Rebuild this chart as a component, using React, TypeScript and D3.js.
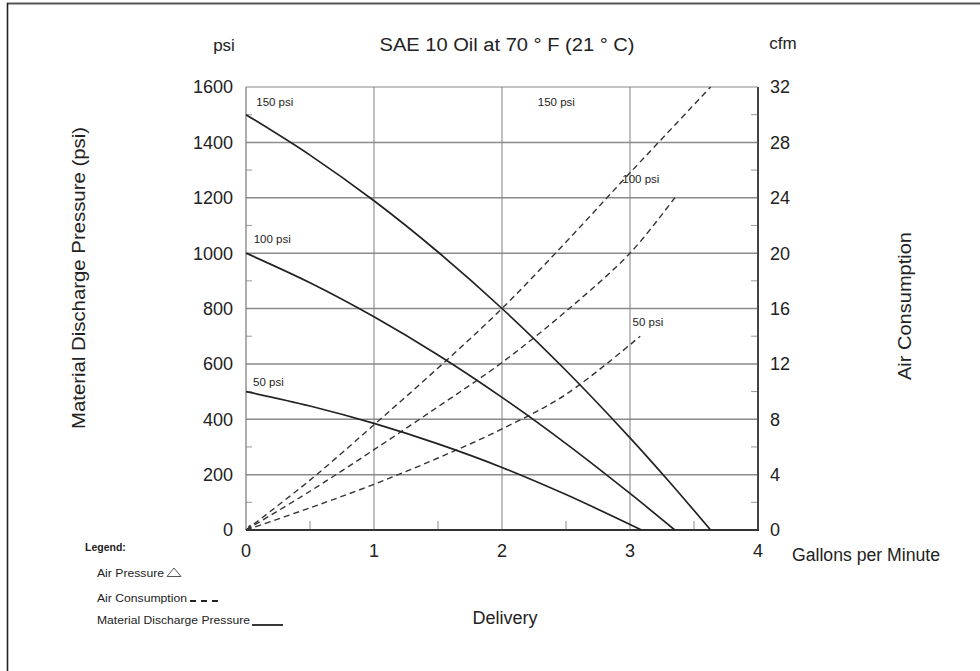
import React from "react";
import * as d3 from "d3";

// ---- Data ----
// Material discharge pressure (psi) vs delivery (gpm) for each air pressure
const gpm150 = [0, 0.5, 1, 1.5, 2, 2.5, 3, 3.3, 3.63];
const psi150 = [1500, 1354, 1189, 1004, 800, 576, 333, 178, 0];
const gpm100 = [0, 0.5, 1, 1.5, 2, 2.5, 3, 3.35];
const psi100 = [1000, 893, 770, 632, 479, 312, 132, 0];
const gpm50 = [0, 0.5, 1, 1.5, 2, 2.5, 3.09];
const psi50 = [500, 448, 385, 311, 226, 128, 0];

// Air consumption (cfm) vs delivery (gpm)
const airGpm150 = [0, 0.5, 1, 1.5, 2, 2.5, 3, 3.63];
const cfm150 = [0, 3.6, 7.6, 11.7, 16, 20.8, 25.8, 32];
const airGpm100 = [0, 0.5, 1, 1.5, 2, 2.5, 3, 3.35];
const cfm100 = [0, 2.8, 5.8, 8.9, 12.1, 15.8, 20, 24];
const airGpm50 = [0, 0.5, 1, 1.5, 2, 2.5, 3.08];
const cfm50 = [0, 1.6, 3.3, 5.2, 7.3, 9.8, 14];

const xTicks = [0, 1, 2, 3, 4];
const xMinor = [0.5, 1.5, 2.5, 3.5];
const leftTicks = [0, 200, 400, 600, 800, 1000, 1200, 1400, 1600];
const leftMinor = [100, 300, 500, 700, 900, 1100, 1300, 1500];
const rightTicks = [0, 4, 8, 12, 16, 20, 24, 28, 32];

// curve labels: [text, gpm, psi]
const curveLabels: [string, number, number][] = [
  ["150 psi", 0.08, 1546],
  ["150 psi", 2.28, 1546],
  ["100 psi", 2.94, 1268],
  ["100 psi", 0.06, 1051],
  ["50 psi", 3.02, 751],
  ["50 psi", 0.055, 534],
];

const title = "SAE 10 Oil at 70 ° F (21 ° C)";
const legendItems = ["Air Pressure", "Air Consumption", "Material Discharge Pressure"];

const FONT = "'Liberation Sans', Arial, Helvetica, sans-serif";

export default function App() {
  const left = 246, right = 758, top = 87, bottom = 530;
  const x = d3.scaleLinear().domain([0, 4]).range([left, right]);
  const yL = d3.scaleLinear().domain([0, 1600]).range([bottom, top]);
  const yR = d3.scaleLinear().domain([0, 32]).range([bottom, top]);

  const lineL = d3
    .line<[number, number]>()
    .x((d) => x(d[0]))
    .y((d) => yL(d[1]))
    .curve(d3.curveCatmullRom.alpha(0.5));
  const lineR = d3
    .line<[number, number]>()
    .x((d) => x(d[0]))
    .y((d) => yR(d[1]))
    .curve(d3.curveCatmullRom.alpha(0.5));

  const zip = (a: number[], b: number[]) => a.map((v, i) => [v, b[i]] as [number, number]);

  const solids = [zip(gpm150, psi150), zip(gpm100, psi100), zip(gpm50, psi50)];
  const dashes = [zip(airGpm150, cfm150), zip(airGpm100, cfm100), zip(airGpm50, cfm50)];

  const textFill = "#222";

  return (
    <svg
      width={980}
      height={671}
      style={{ position: "absolute", left: 0, top: 0, background: "#fff" }}
      fontFamily={FONT}
    >
      <rect x={0} y={0} width={980} height={671} fill="#fff" />
      {/* frame of the picture */}
      <line x1={7} y1={3.5} x2={980} y2={3.5} stroke="#555" strokeWidth={2} />
      <line x1={7.5} y1={3} x2={7.5} y2={671} stroke="#222" strokeWidth={1.6} />

      {/* grid */}
      {xTicks.slice(1, -1).map((t) => (
        <line key={"gx" + t} x1={x(t)} x2={x(t)} y1={top} y2={bottom} stroke="#8a8a8a" strokeWidth={1.1} />
      ))}
      {leftTicks.slice(1, -1).map((t) => (
        <line key={"gy" + t} x1={left} x2={right} y1={yL(t)} y2={yL(t)} stroke="#8a8a8a" strokeWidth={1.5} />
      ))}
      {/* minor ticks */}
      {leftMinor.map((t) => (
        <g key={"mt" + t}>
          <line x1={left} x2={left + 6} y1={yL(t)} y2={yL(t)} stroke="#999" strokeWidth={1} />
          <line x1={right - 7} x2={right} y1={yL(t)} y2={yL(t)} stroke="#999" strokeWidth={1} />
        </g>
      ))}
      {xMinor.map((t) => (
        <line key={"mx" + t} x1={x(t)} x2={x(t)} y1={bottom} y2={bottom - 9} stroke="#888" strokeWidth={1} />
      ))}

      {/* plot frame */}
      <line x1={left} x2={right} y1={top} y2={top} stroke="#888" strokeWidth={1.2} />
      <line x1={left} x2={left} y1={top} y2={bottom} stroke="#777" strokeWidth={1.2} />
      <line x1={right} x2={right} y1={top} y2={bottom + 1} stroke="#444" strokeWidth={2} />
      <line x1={left} x2={right + 1} y1={bottom} y2={bottom} stroke="#333" strokeWidth={2} />

      {/* curves */}
      {dashes.map((d, i) => (
        <path key={"d" + i} d={lineR(d) || ""} fill="none" stroke="#333" strokeWidth={1.4} strokeDasharray="6 4" />
      ))}
      {solids.map((d, i) => (
        <path key={"s" + i} d={lineL(d) || ""} fill="none" stroke="#222" strokeWidth={1.7} />
      ))}
      <circle cx={x(0.03)} cy={yL(12)} r={1.6} fill="#333" />

      {/* curve labels */}
      {curveLabels.map(([t, gx, py], i) => (
        <text key={"cl" + i} x={x(gx)} y={yL(py)} dy="0.35em" fontSize={11.5} fill={textFill}>
          {t}
        </text>
      ))}

      {/* left tick labels */}
      {leftTicks.map((t) => (
        <text key={"lt" + t} x={233} y={yL(t)} dy="0.36em" textAnchor="end" fontSize={18} fill={textFill}>
          {t}
        </text>
      ))}
      {/* right tick labels */}
      {rightTicks.map((t) => (
        <text key={"rt" + t} x={770} y={yR(t)} dy="0.36em" textAnchor="start" fontSize={18} fill={textFill}>
          {t}
        </text>
      ))}
      {/* bottom tick labels */}
      {xTicks.map((t) => (
        <text key={"bt" + t} x={x(t)} y={551} dy="0.36em" textAnchor="middle" fontSize={18} fill={textFill}>
          {t}
        </text>
      ))}

      {/* titles */}
      <text x={507} y={45} dy="0.36em" textAnchor="middle" fontSize={18} fill={textFill} textLength={255} lengthAdjust="spacingAndGlyphs">
        {title}
      </text>
      <text x={224} y={45} dy="0.36em" textAnchor="middle" fontSize={17} fill={textFill}>
        psi
      </text>
      <text x={783} y={43} dy="0.36em" textAnchor="middle" fontSize={17} fill={textFill}>
        cfm
      </text>
      <text x={792} y={555} dy="0.36em" textAnchor="start" fontSize={18} fill={textFill} textLength={148} lengthAdjust="spacingAndGlyphs">
        Gallons per Minute
      </text>
      <text x={505} y={618} dy="0.36em" textAnchor="middle" fontSize={18} fill={textFill}>
        Delivery
      </text>
      <text
        transform="translate(79,278) rotate(-90)"
        textAnchor="middle"
        dy="0.36em"
        fontSize={18}
        fill={textFill}
        textLength={302}
        lengthAdjust="spacingAndGlyphs"
      >
        Material Discharge Pressure (psi)
      </text>
      <text transform="translate(905,306) rotate(-90)" textAnchor="middle" dy="0.36em" fontSize={18} fill={textFill} textLength={148} lengthAdjust="spacingAndGlyphs">
        Air Consumption
      </text>

      {/* legend */}
      <text x={85} y={547} dy="0.36em" fontSize={10.5} fontWeight="bold" fill={textFill}>
        Legend:
      </text>
      <text x={97} y={573} dy="0.36em" fontSize={10.5} fill={textFill} textLength={67} lengthAdjust="spacingAndGlyphs">
        {legendItems[0]}
      </text>
      <path d="M167,576.5 L174,568 L181,576.5 Z" fill="none" stroke="#555" strokeWidth={1} />
      <text x={97} y={598} dy="0.36em" fontSize={10.5} fill={textFill} textLength={90} lengthAdjust="spacingAndGlyphs">
        {legendItems[1]}
      </text>
      <line x1={190} x2={223} y1={601} y2={601} stroke="#222" strokeWidth={1.8} strokeDasharray="6 5" />
      <text x={97} y={620} dy="0.36em" fontSize={10.5} fill={textFill} textLength={153} lengthAdjust="spacingAndGlyphs">
        {legendItems[2]}
      </text>
      <line x1={252} x2={283} y1={625} y2={625} stroke="#222" strokeWidth={1.8} />
    </svg>
  );
}
